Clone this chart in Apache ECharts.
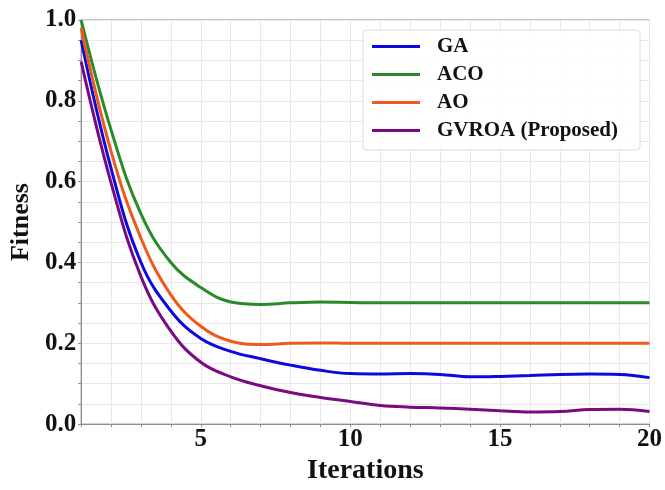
<!DOCTYPE html>
<html>
<head>
<meta charset="utf-8">
<script src="https://cdn.jsdelivr.net/npm/echarts@6/dist/echarts.min.js"></script>
<style>
    html, body { margin: 0; padding: 0; background: #fff; }
    #chart { width: 665px; height: 490px; }
</style>
</head>
<body>
<div id="chart"></div>
<script>
    var iterations = [1, 2, 3, 4, 5, 6, 7, 8, 9, 10, 11, 12, 13, 14, 15, 16, 17, 18, 19, 20];
    var seriesNames = ['GA', 'ACO', 'AO', 'GVROA (Proposed)'];
    var gaFitness = [0.95, 0.633, 0.4, 0.28, 0.212, 0.18, 0.162, 0.146, 0.133, 0.125,
        0.124, 0.125, 0.123, 0.117, 0.118, 0.12, 0.123, 0.124, 0.123, 0.115];
    var acoFitness = [1.0, 0.728, 0.52, 0.4, 0.338, 0.302, 0.296, 0.3, 0.302, 0.301,
        0.3, 0.3, 0.3, 0.3, 0.3, 0.3, 0.3, 0.3, 0.3, 0.3];
    var aoFitness = [0.98, 0.675, 0.46, 0.32, 0.242, 0.205, 0.197, 0.2, 0.201, 0.2,
        0.2, 0.2, 0.2, 0.2, 0.2, 0.2, 0.2, 0.2, 0.2, 0.2];
    var gvroaFitness = [0.897, 0.597, 0.365, 0.23, 0.153, 0.117, 0.095, 0.078, 0.066, 0.056,
        0.046, 0.042, 0.04, 0.037, 0.033, 0.03, 0.031, 0.036, 0.037, 0.031];
    var colors = ['#0a0ae0', '#2a8a2a', '#ee5a1c', '#7a0a82'];

    var serif = '"Times New Roman", "Liberation Serif", serif';

    function pairs(ys) {
        var data = [];
        for (var i = 0; i < iterations.length; i++) {
            data.push([iterations[i], ys[i]]);
        }
        return data;
    }

    var allValues = [gaFitness, acoFitness, aoFitness, gvroaFitness];
    var series = [];
    for (var s = 0; s < seriesNames.length; s++) {
        series.push({
            name: seriesNames[s],
            type: 'line',
            data: pairs(allValues[s]),
            smooth: 0.4,
            symbol: 'none',
            lineStyle: {width: 3, color: colors[s]},
            itemStyle: {color: colors[s]}
        });
    }

    var chart = echarts.init(document.getElementById('chart'), null, {renderer: 'canvas'});
    var option = {
        animation: false,
        grid: {
            left: 81, right: 13, top: 20, bottom: 47,
            show: true, borderColor: '#8c8c8c', borderWidth: 1
        },
        legend: {
            orient: 'vertical',
            left: 363, top: 30,
            icon: 'rect',
            itemWidth: 48, itemHeight: 3,
            itemGap: 7,
            padding: [6, 22, 9, 9],
            borderColor: '#dddddd', borderWidth: 1, borderRadius: 4,
            backgroundColor: 'rgba(255,255,255,0.9)',
            textStyle: {
                fontFamily: serif, fontWeight: 'bold', fontSize: 21,
                color: '#111', lineHeight: 21, padding: [0, 0, 0, 12]
            },
            data: seriesNames
        },
        xAxis: {
            type: 'value',
            min: 1, max: 20, interval: 1,
            name: 'Iterations',
            nameLocation: 'middle',
            nameGap: 23,
            nameTextStyle: {fontFamily: serif, fontWeight: 'bold', fontSize: 28, color: '#111'},
            axisLine: {lineStyle: {color: '#8c8c8c'}},
            axisTick: {show: true, length: 3, lineStyle: {color: '#8c8c8c'}},
            axisLabel: {
                fontFamily: serif, fontWeight: 'bold', fontSize: 25, color: '#111', margin: 3,
                formatter: function (v) {
                    return v % 5 === 0 ? String(v) : '';
                }
            },
            splitLine: {show: true, lineStyle: {color: '#e8e8e8'}}
        },
        yAxis: {
            type: 'value',
            min: 0, max: 1, interval: 0.05,
            name: 'Fitness',
            nameLocation: 'middle',
            nameGap: 47,
            nameTextStyle: {fontFamily: serif, fontWeight: 'bold', fontSize: 26, color: '#111'},
            axisLine: {show: true, lineStyle: {color: '#8c8c8c'}},
            axisTick: {show: true, length: 3, lineStyle: {color: '#8c8c8c'}},
            axisLabel: {
                fontFamily: serif, fontWeight: 'bold', fontSize: 25, color: '#111', margin: 5,
                formatter: function (v) {
                    var k = v * 5;
                    return Math.abs(k - Math.round(k)) < 1e-6 ? v.toFixed(1) : '';
                }
            },
            splitLine: {show: true, lineStyle: {color: '#e8e8e8'}}
        },
        series: series
    };
    chart.setOption(option);
</script>
</body>
</html>
